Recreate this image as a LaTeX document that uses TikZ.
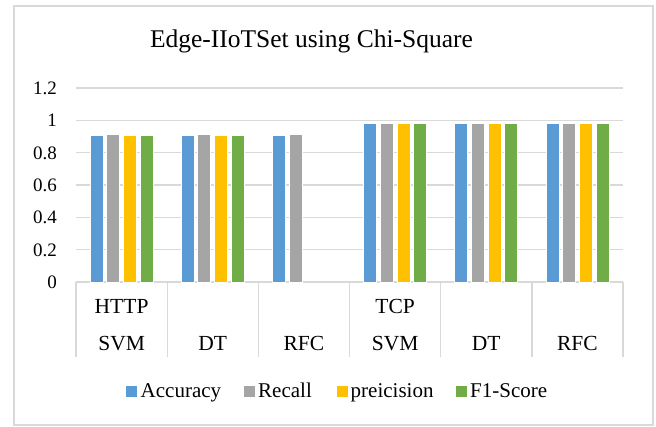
\documentclass[tikz,border=0pt]{standalone}
\usepackage{fontspec}
\setmainfont{Liberation Serif}
\definecolor{gridgray}{HTML}{D9D9D9}
\definecolor{accblue}{HTML}{5B9BD5}
\definecolor{recgray}{HTML}{A5A5A5}
\definecolor{preyellow}{HTML}{FFC000}
\definecolor{fgreen}{HTML}{70AD47}
\begin{document}
\begin{tikzpicture}[x=1pt,y=-1pt,
  frame/.style={draw=gridgray,line width=1.5pt,fill=white},
  gridline/.style={draw=gridgray,line width=1.3pt},
  bar/.style={draw=white,line width=0.7pt},
  ticklbl/.style={anchor=base east,font=\fontsize{19}{20}\selectfont,inner sep=0pt},
  catlbl/.style={anchor=base,font=\fontsize{21.5}{24}\selectfont,inner sep=0pt},
  leglbl/.style={anchor=base west,font=\fontsize{21}{22}\selectfont,inner sep=0pt},
  legbox/.style={minimum size=11pt,inner sep=0pt,anchor=north west},
  titlelbl/.style={anchor=base,font=\fontsize{25.5}{27}\selectfont,inner sep=0pt}]
\useasboundingbox (0,0) rectangle (656,427);
% chart area
\draw[frame] (14,6) rectangle (653,425);
% title
\node[titlelbl] (title) at (311.5,47.7) {Edge-IIoTSet using Chi-Square};
% horizontal grid lines and value axis labels
\foreach \v/\lab [count=\i] in {0/0,0.2/0.2,0.4/0.4,0.6/0.6,0.8/0.8,1/1,1.2/1.2}{
  \pgfmathsetmacro{\yy}{282-161.7*\v}
  \draw[gridline] (76,\yy) -- (623,\yy);
  \node[ticklbl] (tick\i) at (57,\yy+6.4) {\lab};
}
% category separators
\foreach \k in {0,...,6}{
  \pgfmathsetmacro{\xx}{76+91.17*\k}
  \draw[gridline] (\xx,282) -- (\xx,357);
}
% bars: category index / series index / colour / value
\foreach \k/\s/\c/\v in {
  0/0/accblue/0.909, 0/1/recgray/0.912, 0/2/preyellow/0.909, 0/3/fgreen/0.909,
  1/0/accblue/0.909, 1/1/recgray/0.912, 1/2/preyellow/0.909, 1/3/fgreen/0.909,
  2/0/accblue/0.909, 2/1/recgray/0.912,
  3/0/accblue/0.979, 3/1/recgray/0.979, 3/2/preyellow/0.979, 3/3/fgreen/0.979,
  4/0/accblue/0.979, 4/1/recgray/0.979, 4/2/preyellow/0.979, 4/3/fgreen/0.979,
  5/0/accblue/0.979, 5/1/recgray/0.979, 5/2/preyellow/0.979, 5/3/fgreen/0.979}{
  \pgfmathsetmacro{\xa}{76+91.17*\k+14+16.67*\s}
  \pgfmathsetmacro{\ytop}{282-161.7*\v}
  \filldraw[bar,fill=\c] (\xa,282) rectangle (\xa+13,\ytop);
}
% category labels
\node[catlbl] (grpA) at (121.6,313.3) {HTTP};
\node[catlbl] (grpB) at (395.1,313.3) {TCP};
\foreach \k/\lab in {0/SVM,1/DT,2/RFC,3/SVM,4/DT,5/RFC}{
  \node[catlbl] (model\k) at (76+91.17*\k+45.6,351) {\lab};
}
% legend
\node[legbox,fill=accblue] (keyA) at (126,386) {};
\node[leglbl] (keyAt) at (140.5,397.5) {Accuracy};
\node[legbox,fill=recgray] (keyB) at (243.5,386) {};
\node[leglbl] (keyBt) at (258,397.5) {Recall};
\node[legbox,fill=preyellow] (keyC) at (336.3,386) {};
\node[leglbl] (keyCt) at (350.5,397.5) {preicision};
\node[legbox,fill=fgreen] (keyD) at (456,386) {};
\node[leglbl] (keyDt) at (470,397.5) {F1-Score};
\end{tikzpicture}
\end{document}
